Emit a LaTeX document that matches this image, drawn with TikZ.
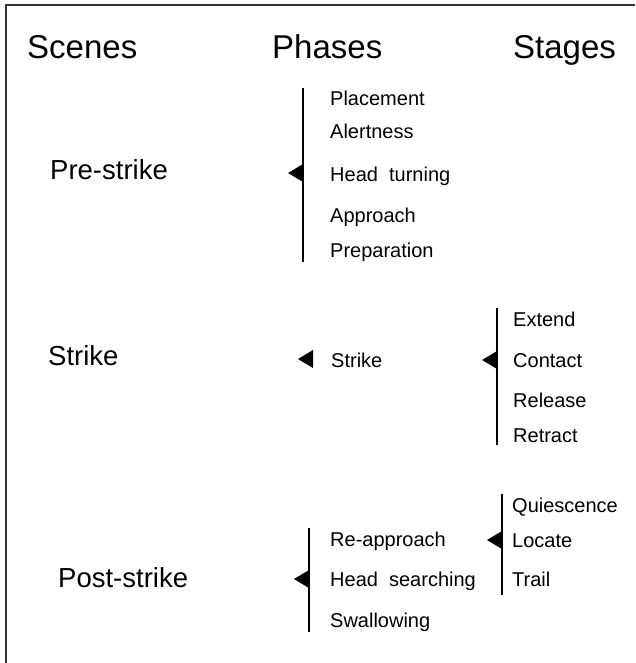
\documentclass[tikz,border=0pt]{standalone}
\usepackage{fontspec}
\setmainfont{Liberation Sans}
\usetikzlibrary{arrows,shapes,calc,positioning}

\tikzset{
  head/.style={font=\fontsize{33}{39}\selectfont, anchor=base west, inner sep=0pt},
  scene/.style={font=\fontsize{27.5}{32}\selectfont, anchor=base west, inner sep=0pt},
  item/.style={font=\fontsize{20}{24}\selectfont, anchor=base west, inner sep=0pt},
  bar/.style={line width=1.6pt},
  frame/.style={line width=1.2pt, black!80}
}
% small black pointer, tip on the left
\newcommand{\pointer}[2]{\fill (#1,#2-9) -- (#1-15,#2) -- (#1,#2+9) -- cycle;}

\begin{document}
\begin{tikzpicture}[x=1pt,y=-1pt]
	\useasboundingbox (0,0) rectangle (635,663);
	\draw [frame] (635,5) -- (6,5) -- (6,663);
	% column heads
	\node [head] (scenes) at (27,59) {Scenes};
	\node [head] (phases) at (272,59) {Phases};
	\node [head] (stages) at (513,59) {Stages};
	% scenes
	\node [scene] (prestrike) at (50,179) {Pre-strike};
	\node [scene] (strike) at (48,365) {Strike};
	\node [scene] (poststrike) at (58,587) {Post-strike};
	% pre-strike phases
	\coordinate (pre top) at (303,88);
	\coordinate (pre bot) at (303,262);
	\draw [bar] (pre top) -- (pre bot);
	\pointer{303}{173}
	\node [item] (placement) at (330,106) {Placement};
	\node [item] (alertness) at (330,139) {Alertness};
	\node [item] (headturning) at (330,182) {Head\ \ turning};
	\node [item] (approach) at (330,222) {Approach};
	\node [item] (preparation) at (330,257) {Preparation};
	% strike phase and stages
	\pointer{313}{359}
	\node [item] (strikephase) at (331,367) {Strike};
	\coordinate (str top) at (497,308);
	\coordinate (str bot) at (497,445);
	\draw [bar] (str top) -- (str bot);
	\pointer{497}{360}
	\node [item] (extend) at (513,326) {Extend};
	\node [item] (contact) at (513,367) {Contact};
	\node [item] (release) at (513,407) {Release};
	\node [item] (retract) at (513,442) {Retract};
	% post-strike phases
	\coordinate (post top) at (309,528);
	\coordinate (post bot) at (309,632);
	\draw [bar] (post top) -- (post bot);
	\pointer{309}{579}
	\node [item] (reapproach) at (330,546) {Re-approach};
	\node [item] (headsearching) at (330,586) {Head\ \ searching};
	\node [item] (swallowing) at (330,627) {Swallowing};
	% re-approach stages
	\coordinate (re top) at (502,494);
	\coordinate (re bot) at (502,595);
	\draw [bar] (re top) -- (re bot);
	\pointer{502}{540}
	\node [item] (quiescence) at (512,512) {Quiescence};
	\node [item] (locate) at (512,547) {Locate};
	\node [item] (trail) at (512,586) {Trail};
\end{tikzpicture}
\end{document}
